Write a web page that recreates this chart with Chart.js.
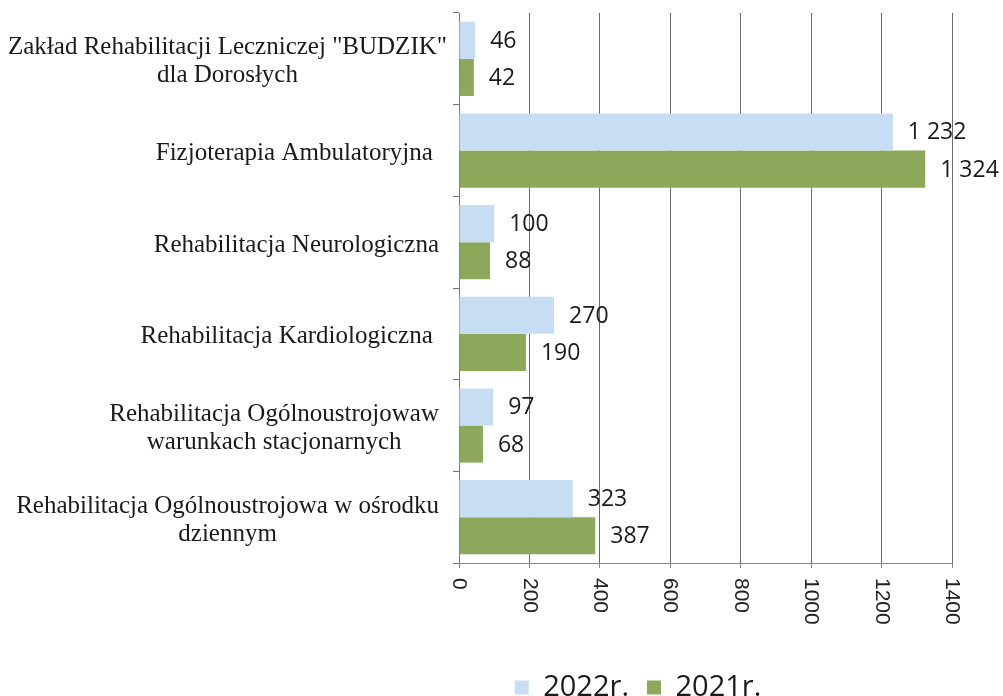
<!DOCTYPE html>
<html>
<head>
<meta charset="utf-8">
<script src="https://cdn.jsdelivr.net/npm/chart.js@4/dist/chart.umd.min.js"></script>
<style>
  html, body { margin: 0; padding: 0; background: #fff; overflow: hidden; }
  #wrap { width: 1003px; height: 696px; overflow: hidden; }
</style>
</head>
<body>
<div id="wrap"><canvas id="chart_bar" width="1003" height="712"></canvas></div>
<script>
// dane wykresu
var kategorie = [
    ['Zakład Rehabilitacji Leczniczej "BUDZIK"', 'dla Dorosłych'],
    ['Fizjoterapia Ambulatoryjna '],
    ['Rehabilitacja Neurologiczna'],
    ['Rehabilitacja Kardiologiczna '],
    ['Rehabilitacja Ogólnoustrojowaw', 'warunkach stacjonarnych'],
    ['Rehabilitacja Ogólnoustrojowa w ośrodku', 'dziennym']
];
var serie = ['2022r.', '2021r.'];
var dane_2022 = [46, 1232, 100, 270, 97, 323];
var dane_2021 = [42, 1324, 88, 190, 68, 387];
var os_x_ticks = [0, 200, 400, 600, 800, 1000, 1200, 1400];

function formatuj(v) {
    return String(v).replace(/\B(?=(\d{3})+(?!\d))/g, ' ');
}

// etykiety wartosci przy slupkach
var etykietyWartosci = {
    id: 'etykietyWartosci',
    afterDatasetsDraw: function(chart) {
        var ctx = chart.ctx;
        ctx.save();
        ctx.font = '23px "Open Sans"';
        ctx.fillStyle = '#1a1a1a';
        ctx.textAlign = 'left';
        ctx.textBaseline = 'middle';
        chart.data.datasets.forEach(function(ds, i) {
            var meta = chart.getDatasetMeta(i);
            meta.data.forEach(function(bar, j) {
                ctx.fillText(formatuj(ds.data[j]), bar.x + 15, bar.y + 1);
            });
        });
        ctx.restore();
    }
};

// etykiety kategorii (wysrodkowane, wieloliniowe) i pionowe etykiety osi X
var etykietyOsi = {
    id: 'etykietyOsi',
    afterDraw: function(chart) {
        var ctx = chart.ctx;
        var y = chart.scales.y;
        var x = chart.scales.x;
        ctx.save();
        ctx.font = '25px "Liberation Serif"';
        ctx.fillStyle = '#1a1a1a';
        ctx.textAlign = 'center';
        ctx.textBaseline = 'middle';
        var prawo = 439;
        var wys = 28;
        kategorie.forEach(function(linie, i) {
            var szer = 0;
            linie.forEach(function(l) { szer = Math.max(szer, ctx.measureText(l).width); });
            var cx = Math.max(prawo - szer / 2, 8 + szer / 2);
            var cy = y.getPixelForValue(i) + 3;
            var start = cy - (linie.length - 1) * wys / 2;
            linie.forEach(function(l, k) {
                ctx.fillText(l, cx, start + k * wys);
            });
        });

        ctx.font = '21px "Liberation Sans"';
        ctx.fillStyle = '#222';
        ctx.textAlign = 'left';
        os_x_ticks.forEach(function(t) {
            var px = x.getPixelForValue(t);
            ctx.save();
            ctx.translate(px, x.top + 15);
            ctx.rotate(Math.PI / 2);
            ctx.fillText(String(t), 0, 0);
            ctx.restore();
        });
        ctx.restore();
    }
};

var datos = {
    labels: kategorie,
    datasets: [{
            label: serie[0],
            backgroundColor: '#C6DDF3',
            data: dane_2022
        },
        {
            label: serie[1],
            backgroundColor: '#8CA85B',
            data: dane_2021
        }
    ]
};

var canvas = document.getElementById('chart_bar').getContext('2d');
window.bar = new Chart(canvas, {
    type: 'bar',
    data: datos,
    plugins: [etykietyWartosci, etykietyOsi],
    options: {
        indexAxis: 'y',
        responsive: false,
        animation: false,
        layout: {
            padding: { left: 324, right: 51, top: 13, bottom: 0 }
        },
        datasets: {
            bar: { categoryPercentage: 0.81, barPercentage: 1.0 }
        },
        scales: {
            y: {
                afterFit: function(scale) { scale.width = 135; },
                ticks: { display: false },
                grid: {
                    drawOnChartArea: false,
                    drawTicks: true,
                    tickLength: 6,
                    color: '#777'
                },
                border: { color: '#777' }
            },
            x: {
                min: 0,
                max: 1400,
                afterFit: function(scale) { scale.height = 92; },
                ticks: { display: false, stepSize: 200 },
                grid: {
                    color: '#6b6b6b',
                    drawTicks: true,
                    tickLength: 5,
                    tickColor: '#888'
                },
                border: { color: '#888' }
            }
        },
        plugins: {
            tooltip: { enabled: false },
            legend: {
                position: 'bottom',
                labels: {
                    font: { family: 'Open Sans', size: 29 },
                    color: '#1a1a1a',
                    boxWidth: 14,
                    boxHeight: 14,
                    padding: 18
                }
            }
        }
    }
});
</script>
</body>
</html>
